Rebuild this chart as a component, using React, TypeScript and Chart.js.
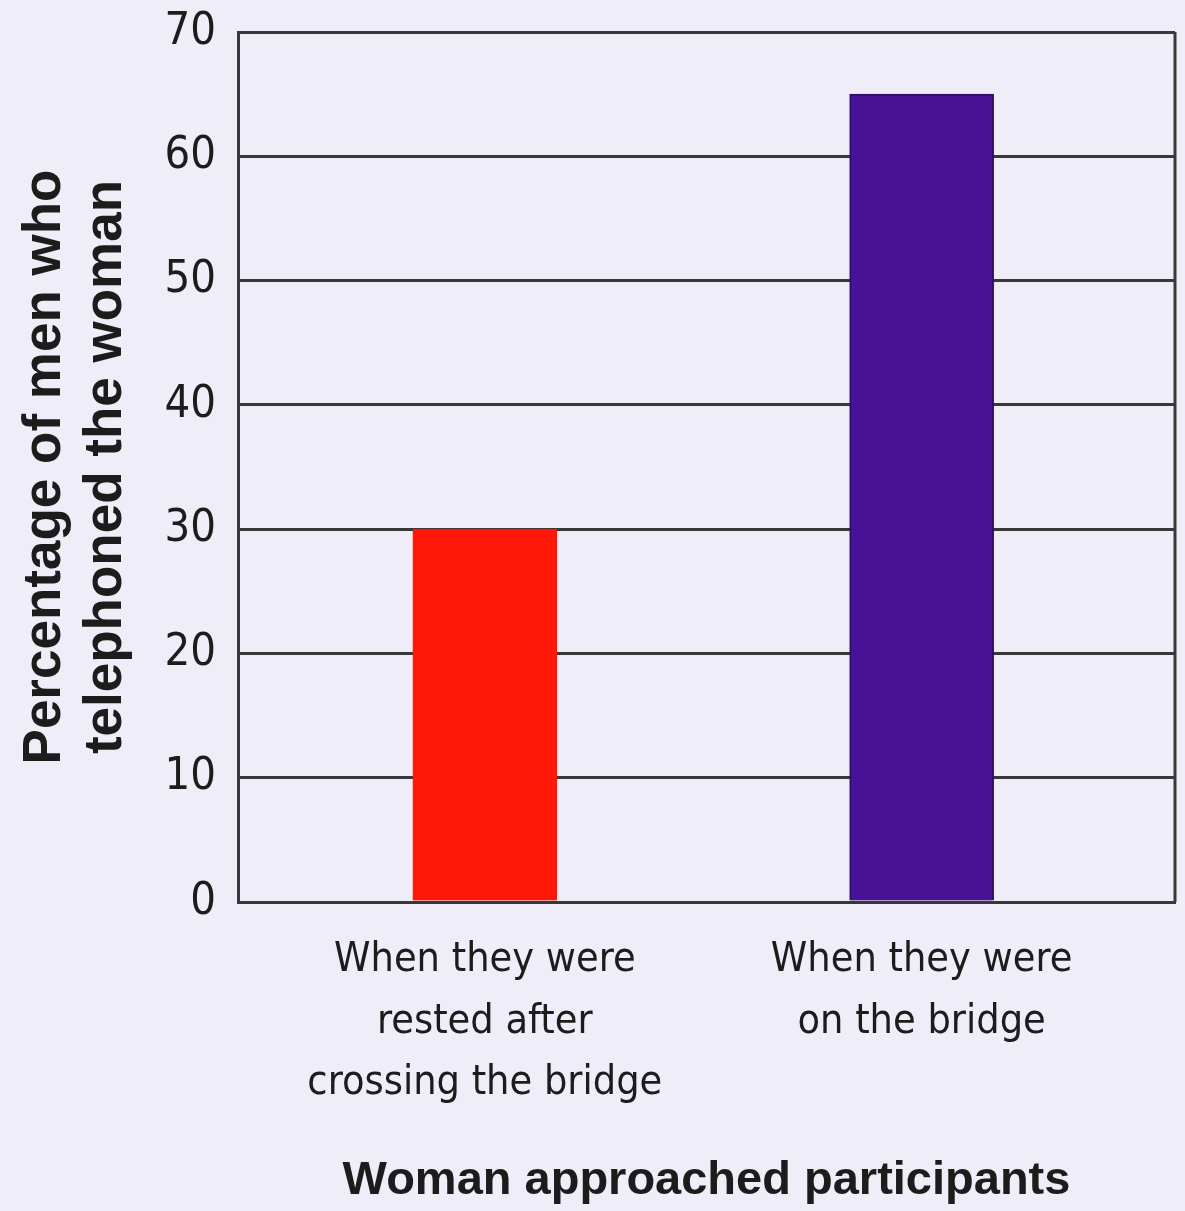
import React, { useEffect, useRef } from "react";
import { Chart, registerables } from "chart.js";

Chart.register(...registerables);

const categories: string[][] = [
  ["When they were", "rested after", "crossing the bridge"],
  ["When they were", "on the bridge"],
];
const values: number[] = [30, 65];
const barColors: string[] = ["#ff1807", "#4a1296"];
const barBorders: string[] = ["#ff1807", "#2e0c72"];
const yTicks: number[] = [0, 10, 20, 30, 40, 50, 60, 70];
const yTitle: string[] = ["Percentage of men who", "telephoned the woman"];
const xTitle = "Woman approached participants";
const xRange: number[] = [-0.565, 1.58];

const NARROW = "'Liberation Sans Narrow', 'DejaVu Sans Condensed', 'Roboto Condensed', sans-serif";
const SANS = "'Liberation Sans', Arial, sans-serif";
const BG = "#efedf7";
const INK = "#1c1c1c";
const GRID = "#383838";

const framePlugin = {
  id: "frame",
  beforeDraw(chart: any) {
    const { ctx, width, height } = chart;
    ctx.save();
    ctx.fillStyle = BG;
    ctx.fillRect(0, 0, width, height);
    ctx.restore();
  },
  afterDatasetsDraw(chart: any) {
    const { ctx, chartArea } = chart;
    ctx.save();
    ctx.strokeStyle = GRID;
    ctx.lineWidth = 3;
    ctx.beginPath();
    ctx.moveTo(chartArea.right, chartArea.top);
    ctx.lineTo(chartArea.right, chartArea.bottom);
    ctx.stroke();
    ctx.restore();
  },
};

export default function App() {
  const ref = useRef<HTMLCanvasElement | null>(null);

  useEffect(() => {
    document.body.style.margin = "0";
    document.body.style.background = BG;
    if (!ref.current) return;
    const chart = new Chart(ref.current, {
      type: "bar",
      data: {
        datasets: [
          {
            data: values.map((v, i) => ({ x: i, y: v })),
            backgroundColor: barColors,
            borderColor: barBorders,
            borderWidth: 2,
            barThickness: 144,
          },
        ],
      },
      options: {
        animation: false,
        responsive: false,
        maintainAspectRatio: false,
        layout: { padding: { top: 32, right: 10, left: 0, bottom: 0 } },
        plugins: { legend: { display: false }, tooltip: { enabled: false } },
        scales: {
          x: {
            type: "linear",
            offset: false,
            bounds: "data",
            min: xRange[0],
            max: xRange[1],
            afterDataLimits: (scale: any) => {
              scale.min = xRange[0];
              scale.max = xRange[1];
            },
            afterBuildTicks: (scale: any) => {
              scale.ticks = categories.map((_, i) => ({ value: i }));
            },
            afterFit: (scale: any) => {
              scale.height = 309;
              scale.paddingLeft = 0;
              scale.paddingRight = 0;
            },
            grid: { display: false, drawTicks: false, offset: false },
            border: { display: true, color: GRID, width: 3 },
            ticks: {
              autoSkip: false,
              maxRotation: 0,
              padding: 28,
              color: INK,
              font: { family: NARROW, size: 41, lineHeight: 1.5 },
              callback: (v: any) => categories[v as number] ?? "",
            },
            title: {
              display: true,
              text: xTitle,
              color: INK,
              font: { family: SANS, size: 47, weight: "bold", lineHeight: 1.2 },
              padding: { top: 0, bottom: 2 },
            },
          },
          y: {
            min: 0,
            max: 70,
            afterBuildTicks: (scale: any) => {
              scale.ticks = yTicks.map((v) => ({ value: v }));
            },
            afterFit: (scale: any) => {
              scale.width = 238;
              scale.paddingTop = 0;
              scale.paddingBottom = 0;
            },
            grid: { color: GRID, lineWidth: 3, drawTicks: false },
            border: { display: true, color: GRID, width: 3 },
            ticks: {
              padding: 22,
              color: INK,
              font: { family: NARROW, size: 45 },
            },
            title: {
              display: true,
              text: yTitle,
              color: INK,
              font: { family: SANS, size: 53, weight: "bold", lineHeight: 1.15 },
              padding: { top: 15, bottom: 0 },
            },
          },
        },
      },
      plugins: [framePlugin],
    } as any);
    return () => chart.destroy();
  }, []);

  return <canvas ref={ref} width={1185} height={1211} style={{ display: "block", width: 1185, height: 1211 }} />;
}
